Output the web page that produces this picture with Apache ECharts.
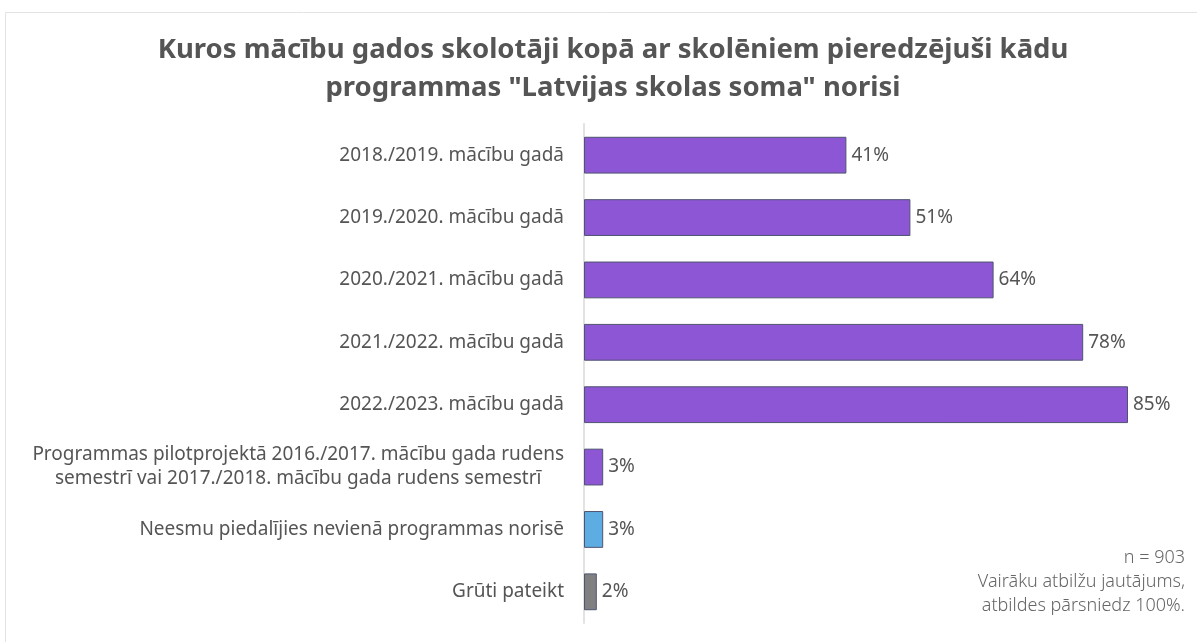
<!DOCTYPE html>
<html>
<head>
<meta charset="utf-8">
<script src="https://cdn.jsdelivr.net/npm/echarts@6/dist/echarts.min.js"></script>
<style>
    html, body { margin: 0; padding: 0; background: #fff; }
    #chart { width: 1197px; height: 642px; }
</style>
</head>
<body>
<div id="chart"></div>
<script>
// kategorijas (no augšas uz leju)
var categories = [
    '2018./2019. mācību gadā',
    '2019./2020. mācību gadā',
    '2020./2021. mācību gadā',
    '2021./2022. mācību gadā',
    '2022./2023. mācību gadā',
    'Programmas pilotprojektā 2016./2017. mācību gada rudens\nsemestrī vai 2017./2018. mācību gada rudens semestrī',
    'Neesmu piedalījies nevienā programmas norisē',
    'Grūti pateikt'
];
// vērtības, %
var values = [41, 51, 64, 78, 85, 3, 3, 2];
// stabiņu krāsas
var barColors = ['#8c56d5', '#8c56d5', '#8c56d5', '#8c56d5', '#8c56d5', '#8c56d5', '#5dade2', '#808080'];

var mchart = echarts.init(document.getElementById('chart'));
var fontMain = "'Noto Sans', 'Open Sans', sans-serif";

var option = {
    backgroundColor: '#fff',
    animation: false,
    title: {
        text: 'Kuros mācību gados skolotāji kopā ar skolēniem pieredzējuši kādu\nprogrammas "Latvijas skolas soma" norisi',
        left: 608,
        textAlign: 'center',
        top: 26,
        textStyle: {
            fontFamily: fontMain,
            fontWeight: 'bold',
            fontSize: 27.5,
            lineHeight: 38,
            color: '#555555'
        }
    },
    graphic: [
        {       //ārējais rāmis
            type: 'rect',
            shape: { x: 5.5, y: 12.5, width: 1300, height: 700 },
            style: { fill: 'none', stroke: '#e3e3e3', lineWidth: 1 }
        },
        {       //piezīme
            type: 'text',
            x: 1185,
            y: 546,
            style: {
                text: 'n = 903\nVairāku atbilžu jautājums,\natbildes pārsniedz 100%.',
                align: 'right',
                verticalAlign: 'top',
                fontFamily: fontMain,
                fontWeight: 300,
                fontSize: 18,
                lineHeight: 24,
                fill: '#666666'
            }
        }
    ],
    grid: {
        left: 584,
        right: 69,
        top: 124,
        bottom: 19
    },
    xAxis: {
        type: 'value',
        min: 0,
        max: 85,
        show: false
    },
    yAxis: {
        type: 'category',
        inverse: true,
        data: categories,
        axisTick: { show: false },
        axisLine: { lineStyle: { color: '#e3e3e3', width: 2 } },
        axisLabel: {
            margin: 20,
            fontFamily: fontMain,
            fontSize: 19,
            color: '#555555',
            formatter: function (v) {
                return v.split('\n').map(function (s) { return '{c|' + s + '}'; }).join('\n');
            },
            rich: {
                c: {
                    align: 'center',
                    fontFamily: fontMain,
                    fontSize: 19,
                    lineHeight: 24,
                    color: '#555555'
                }
            }
        }
    },
    series: [
        {
            name: 'data',
            type: 'bar',
            barCategoryGap: '41%',
            data: values.map(function (v, i) {
                return {
                    value: v,
                    itemStyle: { color: barColors[i] }
                };
            }),
            itemStyle: {
                borderColor: '#4f5470',
                borderWidth: 1
            },
            label: {
                show: true,
                position: 'right',
                distance: 5,
                formatter: '{c}%',
                fontFamily: fontMain,
                fontSize: 19,
                color: '#555555'
            }
        }
    ]
};
mchart.setOption(option);
</script>
</body>
</html>
